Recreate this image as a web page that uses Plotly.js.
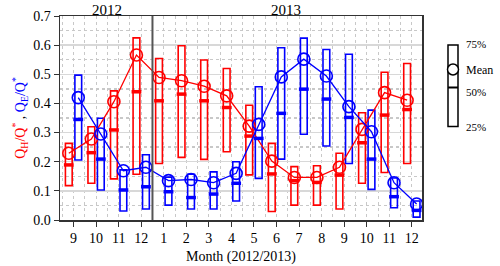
<!DOCTYPE html>
<html><head><meta charset="utf-8">
<script src="https://cdn.plot.ly/plotly-3.0.1.min.js"></script>
<style>html,body{margin:0;padding:0;background:#fff}#c{width:500px;height:266px}</style>
</head><body><div id="c"></div>
<script>
var months = ['9','10','11','12','1','2','3','4','5','6','7','8','9','10','11','12'];
var QH_mean = [0.229,0.278,0.406,0.566,0.489,0.478,0.459,0.426,0.322,0.202,0.146,0.146,0.181,0.311,0.437,0.411];
var QH_q1   = [0.118,0.126,0.141,0.157,0.194,0.215,0.208,0.234,0.155,0.029,0.051,0.051,0.038,0.126,0.163,0.194];
var QH_med  = [0.189,0.231,0.309,0.440,0.409,0.432,0.409,0.386,0.288,0.158,0.135,0.129,0.154,0.265,0.360,0.379];
var QH_q3   = [0.263,0.320,0.443,0.625,0.554,0.598,0.549,0.520,0.394,0.263,0.183,0.186,0.229,0.368,0.507,0.537];
var QE_mean = [0.420,0.295,0.169,0.181,0.135,0.139,0.128,0.160,0.328,0.491,0.552,0.494,0.389,0.303,0.128,0.055];
var QE_q1   = [0.206,0.103,0.031,0.038,0.051,0.038,0.038,0.065,0.143,0.209,0.294,0.254,0.194,0.105,0.042,0.010];
var QE_med  = [0.345,0.209,0.103,0.114,0.097,0.077,0.089,0.126,0.280,0.366,0.449,0.415,0.352,0.209,0.080,0.033];
var QE_q3   = [0.497,0.349,0.172,0.224,0.147,0.157,0.165,0.200,0.457,0.591,0.624,0.585,0.569,0.377,0.144,0.065];
var yearLabels = ['2012','2013'];
var legendLabels = ['75%','Mean','50%','25%'];

var idx = months.map(function(_, i){ return i; });
var RED = '#ff0000', BLUE = '#0000ff';
var OFF = 0.21, BW = 0.3;

function series(q1, med, q3, mean, color, off) {
  var xs = idx.map(function(i){ return i + off; });
  return [
    { type:'bar', x: xs, base: q1, y: q3.map(function(v,i){ return v - q1[i]; }),
      width: BW, marker:{color:'rgba(0,0,0,0)', line:{color:color, width:1.6}},
      hoverinfo:'skip', showlegend:false },
    { type:'scatter', mode:'markers', x: xs, y: med,
      marker:{symbol:'line-ew', size:7, line:{color:color, width:3.5}},
      showlegend:false },
    { type:'scatter', mode:'lines+markers', x: xs, y: mean,
      line:{color:color, width:1.3},
      marker:{symbol:'circle-open', size:12, color:color, line:{width:1.6, color:color}},
      showlegend:false }
  ];
}

var data = [].concat(
  series(QH_q1, QH_med, QH_q3, QH_mean, RED, -OFF),
  series(QE_q1, QE_med, QE_q3, QE_mean, BLUE, OFF)
);

var serif = '"Liberation Serif", "Times New Roman", serif';
function px2x(p){ return (p - 60) / 362; }
function py2y(p){ return (220 - p) / 204; }

var layout = {
  width: 500, height: 266,
  margin: {l:60, r:78, t:16, b:46},
  paper_bgcolor:'#fff', plot_bgcolor:'#fff',
  barmode:'overlay',
  font:{family:serif, size:14, color:'#000'},
  showlegend:false,
  xaxis:{
    range:[-0.6, 15.45], tickmode:'array', tickvals: idx, ticktext: months,
    showline:true, mirror:true, linecolor:'#333', linewidth:1.5,
    ticks:'outside', ticklen:5, tickcolor:'#333',
    showgrid:true, gridcolor:'#c8c8c8', griddash:'dot', gridwidth:1,
    minor:{tickmode:'linear', tick0:0.5, dtick:1, showgrid:true, gridcolor:'#c8c8c8', griddash:'dot', ticklen:0},
    zeroline:false,
    title:{text:'Month (2012/2013)', font:{family:serif, size:14}, standoff:6},
    tickfont:{family:serif, size:14}
  },
  yaxis:{
    range:[0, 0.7], dtick:0.1, tickformat:'.1f',
    showline:true, mirror:true, linecolor:'#333', linewidth:1.5,
    ticks:'outside', ticklen:5, tickcolor:'#333',
    showgrid:true, gridcolor:'#d8d8d8', gridwidth:1.5,
    minor:{dtick:0.05, showgrid:true, gridcolor:'#c8c8c8', griddash:'dot', ticklen:0},
    zeroline:false,
    title:{text:'<span style="color:#ff0000">Q<sub>H</sub>/Q<sup>*</sup></span> , <span style="color:#0000ff">Q<sub>E</sub>/Q<sup>*</sup></span>',
           font:{family:serif, size:14}, standoff:4},
    tickfont:{family:serif, size:14}
  },
  shapes:[
    {type:'line', xref:'x', yref:'paper', x0:3.5, x1:3.5, y0:0, y1:1, line:{color:'#555', width:2}},
    {type:'rect', xref:'paper', yref:'paper', x0:px2x(448), x1:px2x(458), y0:py2y(126.5), y1:py2y(45), line:{color:'#000', width:1.5}, fillcolor:'#fff'},
    {type:'line', xref:'paper', yref:'paper', x0:px2x(448), x1:px2x(458), y0:py2y(87.5), y1:py2y(87.5), line:{color:'#000', width:2}},
    {type:'circle', xref:'paper', yref:'paper', x0:px2x(447.5), x1:px2x(458.5), y0:py2y(75), y1:py2y(64), line:{color:'#000', width:1.5}, fillcolor:'#fff'}
  ],
  annotations:[
    {text:yearLabels[0], xref:'x', yref:'paper', x:1.5, y:1, yanchor:'bottom', showarrow:false, font:{family:serif, size:15}, yshift:-4},
    {text:yearLabels[1], xref:'x', yref:'paper', x:9.4, y:1, yanchor:'bottom', showarrow:false, font:{family:serif, size:15}, yshift:-4},
    {text:legendLabels[0], xref:'paper', yref:'paper', x:px2x(464), y:py2y(44), xanchor:'left', yanchor:'middle', showarrow:false, font:{family:serif, size:11}},
    {text:legendLabels[1], xref:'paper', yref:'paper', x:px2x(464), y:py2y(70), xanchor:'left', yanchor:'middle', showarrow:false, font:{family:serif, size:12}},
    {text:legendLabels[2], xref:'paper', yref:'paper', x:px2x(464), y:py2y(92), xanchor:'left', yanchor:'middle', showarrow:false, font:{family:serif, size:11}},
    {text:legendLabels[3], xref:'paper', yref:'paper', x:px2x(464), y:py2y(127), xanchor:'left', yanchor:'middle', showarrow:false, font:{family:serif, size:11}}
  ]
};

Plotly.newPlot('c', data, layout, {displayModeBar:false, staticPlot:true});
</script>
</body></html>
